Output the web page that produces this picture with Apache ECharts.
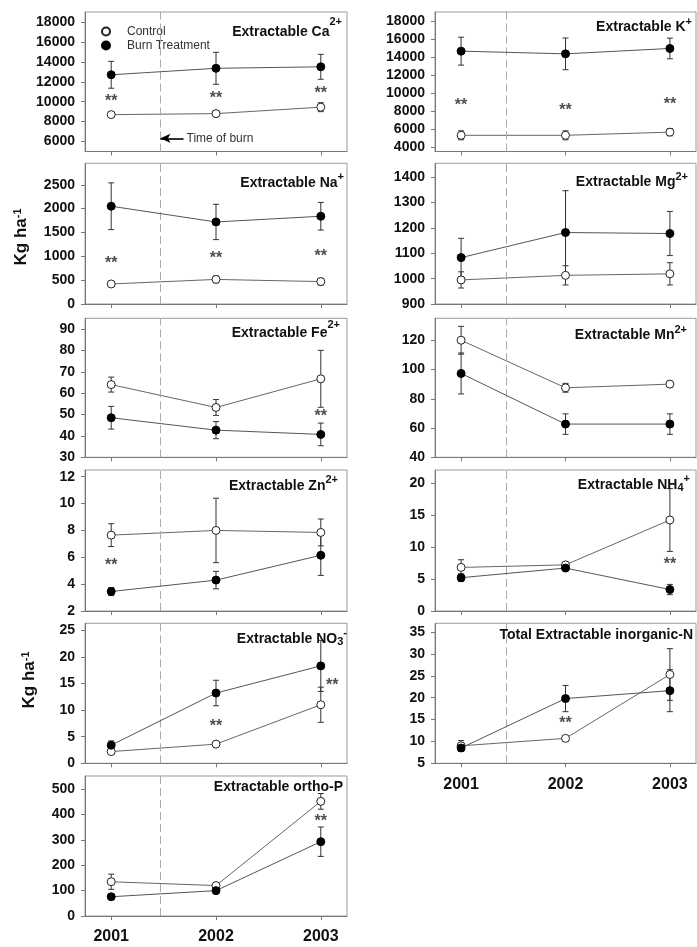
<!DOCTYPE html>
<html><head><meta charset="utf-8">
<script src="https://cdn.jsdelivr.net/npm/echarts@6/dist/echarts.min.js"></script>
<style>html,body{margin:0;padding:0;background:#fff}#c{width:697px;height:947px}</style>
</head><body><div id="c"></div><script>
// ---------------- DATA ----------------
const years = [2001, 2002, 2003];
const seriesNames = ['Control', 'Burn Treatment'];

// Extractable Ca2+
const caControl = [8700, 8800, 9450];
const caControlErr = [150, 150, 450];
const caBurn = [12700, 13350, 13500];
const caBurnErr = [1350, 1600, 1250];
const caStars = [[2001, 10400], [2002, 10700], [2003, 11200]];
const caTicks = [6000, 8000, 10000, 12000, 14000, 16000, 18000];

// Extractable Na+
const naControl = [420, 515, 470];
const naControlErr = [50, 70, 70];
const naBurn = [2050, 1720, 1840];
const naBurnErr = [490, 370, 290];
const naStars = [[2001, 940], [2002, 1045], [2003, 1070]];
const naTicks = [0, 500, 1000, 1500, 2000, 2500];

// Extractable Fe2+
const feControl = [64, 53.3, 66.7];
const feControlErr = [3.5, 3.7, 13.3];
const feBurn = [48.5, 42.7, 40.7];
const feBurnErr = [5.3, 4, 5.3];
const feStars = [[2003, 51]];
const feTicks = [30, 40, 50, 60, 70, 80, 90];

// Extractable Zn2+
const znControl = [7.65, 8.0, 7.85];
const znControlErr = [0.85, 2.4, 1.0];
const znBurn = [3.45, 4.3, 6.15];
const znBurnErr = [0.3, 0.65, 1.5];
const znStars = [[2001, 5.65]];
const znTicks = [2, 4, 6, 8, 10, 12];

// Extractable NO3-
const no3Control = [2.2, 3.6, 11.0];
const no3ControlErr = [0.4, 0.3, 3.3];
const no3Burn = [3.4, 13.2, 18.3];
const no3BurnErr = [0.8, 2.4, 4.8];
const no3Stars = [[2002, 7.6], [2003.11, 15.4]];
const no3Ticks = [0, 5, 10, 15, 20, 25];

// Extractable ortho-P
const pControl = [135, 120, 452];
const pControlErr = [30, 8, 31];
const pBurn = [76, 100, 293];
const pBurnErr = [6, 8, 58];
const pStars = [[2003, 389]];
const pTicks = [0, 100, 200, 300, 400, 500];

// Extractable K+
const kControl = [5300, 5300, 5650];
const kControlErr = [500, 500, 400];
const kBurn = [14650, 14350, 14950];
const kBurnErr = [1550, 1760, 1150];
const kStars = [[2001, 9000], [2002, 8450], [2003, 9200]];
const kTicks = [4000, 6000, 8000, 10000, 12000, 14000, 16000, 18000];

// Extractable Mg2+
const mgControl = [995, 1013, 1019];
const mgControlErr = [32, 38, 44];
const mgBurn = [1083, 1182, 1178];
const mgBurnErr = [76, 165, 87];
const mgStars = [];
const mgTicks = [900, 1000, 1100, 1200, 1300, 1400];

// Extractable Mn2+
const mnControl = [120, 87.5, 90];
const mnControlErr = [9.5, 3, 2];
const mnBurn = [97.3, 62.7, 62.7];
const mnBurnErr = [14, 7, 7];
const mnStars = [];
const mnTicks = [40, 60, 80, 100, 120];

// Extractable NH4+
const nh4Control = [6.8, 7.2, 14.2];
const nh4ControlErr = [1.2, 0.4, 4.9];
const nh4Burn = [5.2, 6.7, 3.35];
const nh4BurnErr = [0.6, 0.3, 0.8];
const nh4Stars = [[2003, 7.8]];
const nh4Ticks = [0, 5, 10, 15, 20];

// Total Extractable inorganic-N
const tnControl = [9.0, 10.7, 25.3];
const tnControlErr = [1.2, 0.6, 5.9];
const tnBurn = [8.5, 19.8, 21.6];
const tnBurnErr = [0.8, 3, 4.8];
const tnStars = [[2002, 14.9]];
const tnTicks = [5, 10, 15, 20, 25, 30, 35];

const burnTime = [2001.47, 2001.43];   // dashed "time of burn" line (left, right column)
const burnArrow = [[2001.47, 6325], [2001.69, 6325]];
const burnArrowText = 'Time of burn';

// ---------------- LAYOUT ----------------
const FONT = 'Arial, "Liberation Sans", Helvetica, sans-serif';
const colLeft = [85, 435];
const colWidth = [262, 261];
const rowTop = [12, 163.3, 318.3, 470, 623.3, 776];
const rowHeight = [139.5, 140.7, 139, 141, 140, 140];

// title pieces: [text, kind] kind: b = base, s = superscript, u = subscript
const panels = [
  {t:[['Extractable Ca','b'],['2+','s']], col:0, row:0, min:5000, max:19000, ticks:caTicks, c:caControl, ce:caControlErr, b:caBurn, be:caBurnErr, stars:caStars, tOff:20.3, tEnd:342, sDy:-10},
  {t:[['Extractable Na','b'],['+','s']], col:0, row:1, min:0, max:2950, ticks:naTicks, c:naControl, ce:naControlErr, b:naBurn, be:naBurnErr, stars:naStars, tOff:19.4, tEnd:344, sDy:-6},
  {t:[['Extractable Fe','b'],['2+','s']], col:0, row:2, min:30, max:95, ticks:feTicks, c:feControl, ce:feControlErr, b:feBurn, be:feBurnErr, stars:feStars, tOff:15, tEnd:340, sDy:-8},
  {t:[['Extractable Zn','b'],['2+','s']], col:0, row:3, min:2, max:12.5, ticks:znTicks, c:znControl, ce:znControlErr, b:znBurn, be:znBurnErr, stars:znStars, tOff:16, tEnd:338, sDy:-6},
  {t:[['Extractable NO','b'],['3','u'],['-','s']], col:0, row:4, min:0, max:26.3, ticks:no3Ticks, c:no3Control, ce:no3ControlErr, b:no3Burn, be:no3BurnErr, stars:no3Stars, tOff:15.7, tEnd:347, sDy:-6},
  {t:[['Extractable ortho-P','b']], col:0, row:5, min:0, max:552, ticks:pTicks, c:pControl, ce:pControlErr, b:pBurn, be:pBurnErr, stars:pStars, tOff:10.7, tEnd:343, sDy:0, xLabels:true},
  {t:[['Extractable K','b'],['+','s']], col:1, row:0, min:3500, max:19000, ticks:kTicks, c:kControl, ce:kControlErr, b:kBurn, be:kBurnErr, stars:kStars, tOff:15.6, tEnd:692, sDy:-6},
  {t:[['Extractable Mg','b'],['2+','s']], col:1, row:1, min:900, max:1455, ticks:mgTicks, c:mgControl, ce:mgControlErr, b:mgBurn, be:mgBurnErr, stars:mgStars, tOff:18.4, tEnd:688, sDy:-5},
  {t:[['Extractable Mn','b'],['2+','s']], col:1, row:2, min:40, max:135, ticks:mnTicks, c:mnControl, ce:mnControlErr, b:mnBurn, be:mnBurnErr, stars:mnStars, tOff:16.7, tEnd:687, sDy:-5},
  {t:[['Extractable NH','b'],['4','u'],['+','s']], col:1, row:3, min:0, max:22, ticks:nh4Ticks, c:nh4Control, ce:nh4ControlErr, b:nh4Burn, be:nh4BurnErr, stars:nh4Stars, tOff:15, tEnd:690, sDy:-6},
  {t:[['Total Extractable inorganic-N','b']], col:1, row:4, min:5, max:37, ticks:tnTicks, c:tnControl, ce:tnControlErr, b:tnBurn, be:tnBurnErr, stars:tnStars, tOff:11.7, tEnd:693, sDy:0, xLabels:true}
];

const mctx = document.createElement('canvas').getContext('2d');
function textWidth(txt, size) { mctx.font = 'bold ' + size + 'px ' + FONT; return mctx.measureText(txt).width; }
const pieceSize = {b:14, s:11, u:11};

function renderErr(params, api) {
  const x = api.value(0), lo = api.value(1), hi = api.value(2);
  const p1 = api.coord([x, hi]), p2 = api.coord([x, lo]);
  const w = 3;
  const style = {stroke:'#333', lineWidth:1};
  return {type:'group', children:[
    {type:'line', shape:{x1:p1[0], y1:p1[1], x2:p2[0], y2:p2[1]}, style:style},
    {type:'line', shape:{x1:p1[0]-w, y1:p1[1], x2:p1[0]+w, y2:p1[1]}, style:style},
    {type:'line', shape:{x1:p2[0]-w, y1:p2[1], x2:p2[0]+w, y2:p2[1]}, style:style}
  ]};
}

const grids = [], xAxes = [], yAxes = [], series = [], graphics = [];
const fmt = v => String(v);

panels.forEach((p, i) => {
  grids.push({left:colLeft[p.col], top:rowTop[p.row], width:colWidth[p.col], height:rowHeight[p.row],
    show:true, borderColor:'#9c9c9c', borderWidth:1});
  xAxes.push({gridIndex:i, type:'value', min:2000.75, max:2003.25,
    axisLine:{show:true, onZero:false, lineStyle:{color:'#777'}},
    axisTick:{show:true, length:4, customValues:years, lineStyle:{color:'#777'}},
    axisLabel:{show:!!p.xLabels, customValues:years, formatter:fmt, margin:13, fontSize:16, fontWeight:'bold', color:'#111', fontFamily:FONT},
    splitLine:{show:false}});
  yAxes.push({gridIndex:i, type:'value', min:p.min, max:p.max,
    axisLine:{show:true, onZero:false, lineStyle:{color:'#777'}},
    axisTick:{show:true, length:4, customValues:p.ticks, lineStyle:{color:'#777'}},
    axisLabel:{customValues:p.ticks, formatter:fmt, margin:10, fontSize:14, fontWeight:'bold', color:'#111', fontFamily:FONT},
    splitLine:{show:false}});

  // panel title built from pieces, right-aligned at tEnd
  const cy = rowTop[p.row] + p.tOff;
  let x = p.tEnd;
  for (let k = p.t.length - 1; k >= 0; k--) {
    const [txt, kind] = p.t[k];
    const size = pieceSize[kind];
    x -= textWidth(txt, size);
    const dy = kind === 's' ? p.sDy : (kind === 'u' ? 3 : 0);
    graphics.push({type:'text', x:x, y:cy + dy, silent:true, z:10,
      style:{text:txt, fontSize:size, fontWeight:'bold', fontFamily:FONT, fill:'#111', align:'left', verticalAlign:'middle'}});
  }

  const errC = years.map((y, k) => [y, p.c[k] - p.ce[k], p.c[k] + p.ce[k]]);
  const errB = years.map((y, k) => [y, p.b[k] - p.be[k], p.b[k] + p.be[k]]);
  series.push({type:'custom', name:'errC'+i, xAxisIndex:i, yAxisIndex:i, renderItem:renderErr,
    encode:{x:0, y:[1,2]}, data:errC, z:2, silent:true});
  series.push({type:'custom', name:'errB'+i, xAxisIndex:i, yAxisIndex:i, renderItem:renderErr,
    encode:{x:0, y:[1,2]}, data:errB, z:2, silent:true});

  const ml = [{xAxis:burnTime[p.col]}];
  if (i === 0) {
    const lbl = {show:true, position:'end', distance:3, formatter:burnArrowText, fontSize:12, color:'#333', fontFamily:FONT};
    ml.push([
      {coord:burnArrow[0], symbol:'arrow', symbolSize:[7,10], lineStyle:{type:'solid', color:'#000', width:1.6}, label:lbl},
      {coord:burnArrow[1], symbol:'none', label:lbl}
    ]);
  }
  series.push({type:'line', name:seriesNames[0], xAxisIndex:i, yAxisIndex:i,
    data:years.map((y, k) => [y, p.c[k]]), symbol:'circle', symbolSize:8, z:4,
    lineStyle:{color:'#666', width:1}, itemStyle:{color:'#fff', borderColor:'#222', borderWidth:1},
    markLine:{silent:true, animation:false, symbol:['none','none'], label:{show:false},
      lineStyle:{type:[8,4], color:'#aaa', width:1}, data:ml}});
  series.push({type:'line', name:seriesNames[1], xAxisIndex:i, yAxisIndex:i,
    data:years.map((y, k) => [y, p.b[k]]), symbol:'circle', symbolSize:8, z:5,
    lineStyle:{color:'#555', width:1}, itemStyle:{color:'#000', borderColor:'#000', borderWidth:1}});
  series.push({type:'scatter', name:'stars'+i, xAxisIndex:i, yAxisIndex:i, data:p.stars,
    symbol:'circle', symbolSize:2, itemStyle:{color:'rgba(0,0,0,0)'}, silent:true, z:6,
    label:{show:true, position:'inside', formatter:'**', offset:[0,4], fontSize:16, fontWeight:'bold', color:'#222', fontFamily:FONT}});
});

const ylabRich = {
  a:{fontSize:17, fontWeight:'bold', fontFamily:FONT, fill:'#111', lineHeight:18, padding:[8,0,0,0], verticalAlign:'bottom'},
  b:{fontSize:11, fontWeight:'bold', fontFamily:FONT, fill:'#111', lineHeight:12, verticalAlign:'top'}
};
graphics.push(
  {type:'text', x:21, y:237, rotation:Math.PI/2, style:{text:'{a|Kg ha}{b|-1}', rich:ylabRich, align:'center', verticalAlign:'middle'}},
  {type:'text', x:29, y:680, rotation:Math.PI/2, style:{text:'{a|Kg ha}{b|-1}', rich:ylabRich, align:'center', verticalAlign:'middle'}}
);

const chart = echarts.init(document.getElementById('c'), null, {renderer:'canvas'});
chart.setOption({
  animation:false,
  backgroundColor:'#fff',
  legend:{data:seriesNames, orient:'vertical', left:101, top:25.5, padding:0, itemGap:2,
    icon:'circle', itemWidth:32, itemHeight:8, selectedMode:false,
    textStyle:{fontSize:12, color:'#333', fontFamily:FONT, lineHeight:12}},
  grid:grids, xAxis:xAxes, yAxis:yAxes, series:series,
  graphic:graphics
});
</script></body></html>
